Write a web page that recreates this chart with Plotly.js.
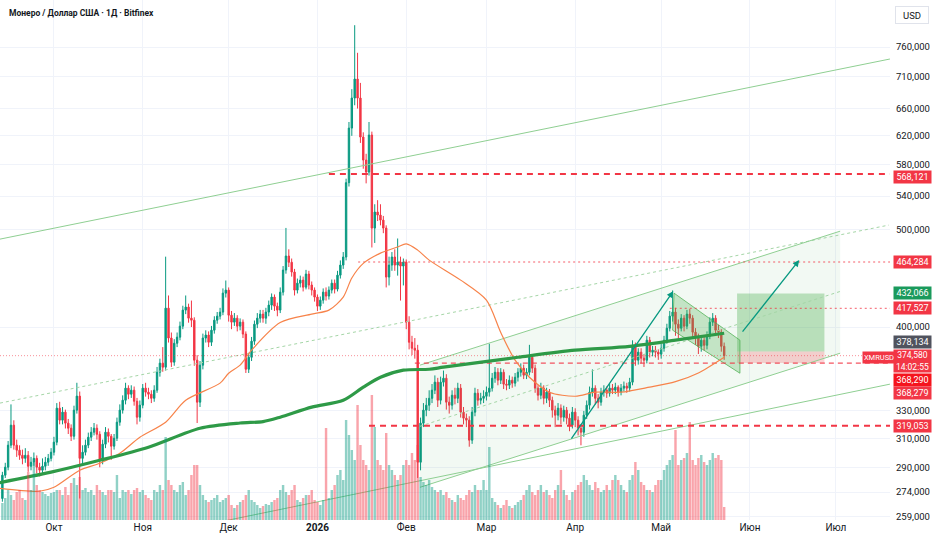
<!DOCTYPE html>
<html><head><meta charset="utf-8">
<script src="https://cdn.plot.ly/plotly-3.0.1.min.js"></script>
<style>html,body{margin:0;padding:0;background:#fff;}#chart{width:932px;height:550px;}</style>
</head><body><div id="chart"></div>
<script>
// ---------- DATA ----------
const startDate = [2025, 8, 13]; // first daily candle: 13 Sep 2025
const open0 = 270;
const closes = [
284.8,290.1,305.1,319.4,305.1,301.6,298.1,296.0,298.1,290.7,
293.4,296.0,290.1,288.1,290.7,293.4,296.0,300.2,307.2,332.1,
323.1,329.1,320.9,317.2,311.4,330.6,341.4,296.0,300.2,305.1,
310.7,314.3,317.2,312.8,294.7,305.8,314.3,311.4,304.4,310.0,
321.6,330.6,338.2,347.7,342.9,346.1,337.4,325.3,334.4,347.7,
344.5,342.9,339.7,346.1,360.6,368.2,364.8,417.7,390.0,369.0,
385.4,390.8,400.8,415.8,418.7,408.2,406.3,370.7,336.7,366.5,
390.0,392.7,386.3,397.1,406.3,410.1,413.9,432.3,435.3,411.0,
404.5,408.2,400.8,404.5,393.6,363.1,373.2,387.2,402.6,408.2,
412.0,408.2,413.9,420.6,428.4,419.6,415.8,433.3,455.8,470.7,
464.0,453.7,435.3,442.3,445.4,438.3,451.6,440.4,435.3,428.4,
419.6,425.4,433.3,429.4,435.3,442.3,436.3,450.5,461.0,469.6,
556.9,631.1,676.1,706.2,676.1,618.3,586.5,570.6,621.1,501.8,
520.6,517.0,511.1,501.8,448.5,461.0,469.6,461.0,464.2,460.0,
464.2,404.5,386.3,381.0,379.3,293.4,320.9,330.6,334.4,339.7,
346.1,352.5,338.2,352.5,355.7,336.7,334.4,342.1,339.7,347.7,
329.1,324.6,323.1,308.6,329.1,343.7,338.2,339.7,341.3,344.5,
347.7,355.7,360.6,354.1,360.6,350.9,350.1,354.1,351.7,356.5,
360.6,364.0,358.2,360.6,373.2,364.0,347.7,342.1,347.7,339.7,
344.5,338.2,330.6,326.8,332.1,325.3,330.6,324.6,319.4,329.1,
323.1,317.2,314.3,326.8,334.4,344.5,347.7,339.7,336.7,344.5,
346.1,343.7,347.7,346.1,348.5,344.5,347.7,349.3,347.7,352.5,
383.6,370.7,377.6,372.4,370.7,388.1,377.6,379.3,377.6,375.9,
381.0,388.1,398.9,410.1,413.9,402.6,398.9,408.2,400.8,412.0,
408.2,395.3,391.7,382.7,388.1,383.6,391.7,404.5,408.2,397.1,
395.3,382.7,374.58];
const highs = [
287,293,308,335,323,309,305,302,303,301,
297,300,298,293,296,297,299,303,311,336,
337,333,331,324,320,334,352,345,305,309,
314,318,321,320,315,309,318,317,313,313,
325,335,342,352,350,350,349,340,338,351,
352,348,346,350,365,372,382,470,430,395,
389,395,405,420,430,422,425,409,375,370,
394,397,396,401,410,414,418,437,445,438,
415,413,411,408,407,396,377,391,406,413,
416,416,418,425,432,431,423,438,460,502,
478,468,457,447,450,449,456,455,444,438,
431,429,437,438,439,446,446,455,466,475,
562,640,690,799,750,700,625,595,640,626,
530,535,530,516,505,470,475,478,490,470,
468,467,410,392,390,384,325,336,340,346,
351,358,356,357,362,359,341,346,348,352,
351,333,328,326,333,348,347,344,346,349,
385,360,365,364,364,363,355,358,357,360,
364,368,367,364,384,376,367,350,352,350,
348,347,341,334,336,335,334,333,328,333,
332,326,320,330,338,349,363,350,343,348,
350,349,351,351,352,350,351,353,352,356,
388,386,381,381,376,392,391,383,383,380,
385,392,403,415,435,418,407,412,411,416,
417,411,399,394,392,391,396,409,413,411,
402,398,386];
const lows = [
268,283,288,303,302,297,295,292,293,287,
288,291,286,284,285,288,291,294,298,305,
320,320,317,313,308,309,328,270,292,298,
303,308,312,309,290,292,303,307,295,302,
308,319,328,335,339,340,334,320,322,332,
341,339,336,337,344,357,361,362,386,365,
366,382,388,398,412,404,400,366,321,333,
363,386,382,383,394,403,407,411,428,405,
398,401,396,397,390,360,360,370,384,399,
404,404,403,410,416,415,410,413,430,452,
459,449,430,432,438,434,436,436,430,424,
415,416,422,425,426,432,432,434,447,457,
466,552,620,665,660,610,575,556,566,480,
485,510,505,496,438,440,455,455,450,425,
440,398,380,375,372,283,288,318,326,330,
336,343,333,335,349,331,328,331,335,336,
325,320,318,304,306,326,334,335,336,338,
341,345,352,350,351,347,346,347,348,349,
353,357,355,355,358,360,344,338,339,335,
336,333,325,318,323,320,322,320,315,317,
318,312,305,311,324,331,341,335,332,334,
341,340,341,343,343,341,342,345,344,345,
350,366,367,368,365,368,373,374,373,371,
372,378,385,396,405,392,390,396,396,398,
403,390,384,376,378,379,380,389,401,393,
390,378,371];
const volumes = [
17,22,30,25,20,28,30,22,20,48,
30,57,35,30,28,26,24,27,28,30,
30,25,33,25,37,42,35,43,30,32,
28,30,25,35,30,28,25,30,30,28,
45,22,30,28,30,26,30,32,28,30,
25,22,20,30,28,35,30,83,40,35,
30,28,35,38,25,30,45,55,55,35,
25,20,18,20,22,25,18,20,22,25,
15,12,15,18,20,25,30,20,18,15,
12,14,16,15,18,20,22,30,35,28,
25,30,35,20,18,22,25,25,30,20,
18,15,20,92,22,30,35,45,50,40,
100,85,70,60,115,75,60,55,50,125,
93,60,55,50,87,55,50,45,40,45,
55,60,55,67,60,75,43,38,35,40,
33,30,28,30,25,28,22,20,18,25,
22,20,25,30,28,35,30,30,40,30,
73,22,18,15,12,15,20,14,12,15,
18,20,25,30,35,28,25,30,35,28,
30,25,22,30,35,50,30,25,20,28,
30,35,38,45,40,35,30,38,32,28,
30,35,30,40,45,40,35,30,28,40,
45,58,50,38,35,30,30,28,35,40,
40,50,55,60,65,90,55,60,62,67,
98,60,55,62,65,58,55,60,67,62,
65,60,13];

const monthTicks = ['2025-10-01','2025-11-01','2025-12-01','2026-01-01','2026-02-01','2026-03-01','2026-04-01','2026-05-01','2026-06-01','2026-07-01'];
const monthLabels = ['Окт','Ноя','Дек','<b>2026</b>','Фев','Мар','Апр','Май','Июн','Июл'];
const priceTicks = [259,274,290,310,330,400,500,540,580,620,660,710,760];
const priceTickText = ['259,000','274,000','290,000','310,000','330,000','400,000','500,000','540,000','580,000','620,000','660,000','710,000','760,000'];

const smaDates = ['2025-09-12','2025-09-30','2025-10-17','2025-11-03','2025-11-21','2025-12-05','2025-12-13','2025-12-19','2025-12-30','2026-01-10','2026-01-17','2026-01-23','2026-01-31','2026-02-09','2026-02-14','2026-03-12','2026-04-01','2026-04-20','2026-05-06','2026-05-23'];
const smaValues = [280.0,286.8,294.7,303.7,317.2,321.0,322.0,325.3,332.9,338.2,348.5,356.5,362.3,363.1,364.8,373.2,379.3,382.7,388.1,394.3];

const emaDates = ['2025-09-12','2025-09-26','2025-10-01','2025-10-10','2025-10-17','2025-10-24','2025-10-31','2025-11-09','2025-11-16','2025-11-28','2025-12-01','2025-12-05','2025-12-09','2025-12-19','2025-12-30','2026-01-05','2026-01-10','2026-01-13','2026-01-17','2026-01-23','2026-01-29','2026-02-01','2026-02-05','2026-02-09','2026-02-20','2026-03-01','2026-03-06','2026-03-11','2026-03-16','2026-03-23','2026-04-01','2026-04-08','2026-04-17','2026-04-27','2026-05-06','2026-05-14','2026-05-23'];
const emaValues = [276.3,274.5,277.0,288.1,292.7,299.5,310.7,321.6,338.2,351.7,359.8,366.5,379.3,404.1,412.0,415.8,428.4,447.6,462.8,473.8,480.5,483.9,477.1,466.3,445.4,425.4,395.0,370.7,356.5,344.5,341.3,344.5,344.5,348.5,352.9,360.0,373.2];

// drawn trend lines: [startDate, startPrice, endDate, endPrice]
const trendTop = ['2025-09-12 04:00', 489.3, '2026-07-19 21:00', 739.4];
const trendDotted = ['2025-09-12 04:00', 336.0, '2026-07-19 12:00', 505.3];
const trendLong = ['2025-11-03 12:00', 247.6, '2026-07-19 21:00', 350.9];
const channelUpper = ['2026-02-05 19:00', 366.5, '2026-07-02 12:00', 498.3];
const channelMid = ['2026-02-05 19:00', 318.6, '2026-07-02 12:00', 434.0];
const channelLower = ['2026-02-05 19:00', 277.0, '2026-07-02 12:00', 376.7];
const flagUpper = ['2026-05-05 12:00', 432.3, '2026-05-28 12:00', 388.1];
const flagLower = ['2026-05-05 00:00', 397.1, '2026-05-28 12:00', 359.8];
const arrowUp1 = ['2026-03-30 07:00', 308.6, '2026-05-05 05:00', 434.3];
const arrowUp2 = ['2026-05-29 00:00', 394.4, '2026-06-18 05:00', 466.3];
const longPos = {from: '2026-05-27 12:00', to: '2026-06-27 00:00', target: 432.066, entry: 378.134, stop: 368.29};

// horizontal levels: [price, startDate, style]
const levels = [
  [568.121, '2026-01-05', 'thick'],
  [464.284, '2026-01-15 05:00', 'dot'],
  [417.527, '2026-05-04', 'dot'],
  [368.29, '2026-02-04', 'dash'],
  [319.053, '2026-01-19', 'thick'],
  [374.58, '2025-09-12 04:00', 'price']
];

// ---------- BUILD ----------
const xRange = ['2025-09-12 04:00', '2026-07-19 21:30'];
const yMin = 257.0, yMax = 846.5;
const UP = '#089981', DOWN = '#f23645';
const FONT = 'Roboto, "Noto Sans", sans-serif';

const dates = closes.map((_, i) => new Date(Date.UTC(startDate[0], startDate[1], startDate[2] + i)).toISOString().slice(0, 10));
const opens = closes.map((c, i) => i === 0 ? open0 : closes[i - 1]);
const volColors = closes.map((c, i) => c >= opens[i] ? 'rgba(8,153,129,0.45)' : 'rgba(242,54,69,0.45)');

const traces = [];
traces.push({type: 'bar', x: dates, y: volumes, yaxis: 'y2', marker: {color: volColors, line: {width: 0}}, hoverinfo: 'skip'});

function seg(a, color, width, dash) {
  return {type: 'scatter', mode: 'lines', x: [a[0], a[2]], y: [a[1], a[3]], line: {color, width, dash: dash || 'solid'}, hoverinfo: 'skip'};
}
function poly(u, l, fill, line) {
  return {type: 'scatter', mode: 'lines', x: [u[0], u[2], l[2], l[0], u[0]], y: [u[1], u[3], l[3], l[1], u[1]], fill: 'toself', fillcolor: fill, line: {width: line ? 1 : 0, color: line || 'rgba(0,0,0,0)'}, hoverinfo: 'skip'};
}
traces.push(poly(channelUpper, channelLower, 'rgba(76,175,80,0.07)'));
traces.push({type: 'scatter', mode: 'lines', x: [longPos.from, longPos.to, longPos.to, longPos.from, longPos.from], y: [longPos.target, longPos.target, longPos.entry, longPos.entry, longPos.target], fill: 'toself', fillcolor: 'rgba(76,175,80,0.35)', line: {width: 0}, hoverinfo: 'skip'});
traces.push({type: 'scatter', mode: 'lines', x: [longPos.from, longPos.to, longPos.to, longPos.from, longPos.from], y: [longPos.entry, longPos.entry, longPos.stop, longPos.stop, longPos.entry], fill: 'toself', fillcolor: 'rgba(242,54,69,0.22)', line: {width: 0}, hoverinfo: 'skip'});
traces.push(poly(flagUpper, flagLower, 'rgba(76,175,80,0.28)', 'rgba(76,175,80,0.75)'));
const TL = '#8fcf92';
traces.push(seg(trendTop, TL, 1));
traces.push(seg(trendDotted, '#a5d6a7', 1, '3px,3px'));
traces.push(seg(trendLong, TL, 1));
traces.push(seg(channelUpper, TL, 1));
traces.push(seg(channelLower, TL, 1));
traces.push(seg(channelMid, '#a5d6a7', 1, '3px,3px'));
levels.forEach(([p, d, s]) => {
  let line;
  if (s === 'thick') line = {color: DOWN, width: 2, dash: '6px,5px'};
  else if (s === 'dot') line = {color: 'rgba(242,54,69,0.8)', width: 1, dash: '2px,3px'};
  else if (s === 'dash') line = {color: 'rgba(242,54,69,0.85)', width: 1.3, dash: '5px,4px'};
  else line = {color: 'rgba(242,54,69,0.55)', width: 1, dash: '1px,2px'};
  traces.push({type: 'scatter', mode: 'lines', x: [d, xRange[1]], y: [p, p], line, hoverinfo: 'skip'});
});
traces.push({type: 'candlestick', x: dates, open: opens, high: highs, low: lows, close: closes,
  increasing: {line: {color: UP, width: 1}, fillcolor: UP},
  decreasing: {line: {color: DOWN, width: 1}, fillcolor: DOWN},
  whiskerwidth: 0, hoverinfo: 'skip'});
traces.push({type: 'scatter', mode: 'lines', x: emaDates, y: emaValues, line: {color: '#f7834a', width: 1.2, shape: 'spline', smoothing: 0.8}, hoverinfo: 'skip'});
traces.push({type: 'scatter', mode: 'lines', x: smaDates, y: smaValues, line: {color: '#2e9a47', width: 3.2, shape: 'spline', smoothing: 0.8}, hoverinfo: 'skip'});

// ---------- ANNOTATIONS ----------
const PW = 890, PH = 520;
function axisLabel(text, py, bg, h, fs) {
  return {xref: 'paper', yref: 'paper', x: 893 / PW, y: 1 - py / PH, xanchor: 'left', yanchor: 'middle',
    text, showarrow: false, bgcolor: bg, width: 35, height: h || 10, borderpad: 1, align: 'center',
    font: {color: '#ffffff', size: fs || 9, family: FONT}};
}
function pyOf(p) { return PH * (Math.log(yMax) - Math.log(p)) / (Math.log(yMax) - Math.log(yMin)); }
const annotations = [
  {xref: 'paper', yref: 'paper', x: 7 / PW, y: 1 - 13 / PH, xanchor: 'left', yanchor: 'middle', showarrow: false,
   text: '<b>Монеро / Доллар США · 1Д · Bitfinex</b>', font: {size: 8.5, color: '#131722', family: FONT}},
  {xref: 'paper', yref: 'paper', x: 895 / PW, y: 1 - 15 / PH, xanchor: 'left', yanchor: 'middle', showarrow: false,
   text: 'USD', width: 30, height: 14, bordercolor: '#e0e3eb', borderwidth: 1, borderpad: 1, bgcolor: '#ffffff',
   font: {size: 9.5, color: '#131722', family: FONT}},
  axisLabel('568,121', 176.5, '#f23645'),
  axisLabel('464,284', pyOf(464.284), '#f23645'),
  axisLabel('432,066', pyOf(432.066), '#1a9a5c'),
  axisLabel('417,527', pyOf(417.527), '#f23645'),
  axisLabel('378,134', 342, '#50535e'),
  axisLabel('374,580<br>14:02:55', 361, '#f23645', 20, 8.5),
  axisLabel('368,290', 379.5, '#f5141d'),
  axisLabel('368,279', 392.5, '#f23645'),
  axisLabel('319,053', pyOf(319.053), '#f23645'),
  {xref: 'paper', yref: 'paper', x: 862 / PW, y: 1 - 357 / PH, xanchor: 'left', yanchor: 'middle', showarrow: false,
   text: 'XMRUSD', bgcolor: '#f23645', width: 30, height: 9, borderpad: 1, font: {color: '#fff', size: 7.5, family: FONT}},
  {x: arrowUp1[2], y: Math.log10(arrowUp1[3]), ax: arrowUp1[0], ay: Math.log10(arrowUp1[1]), axref: 'x', ayref: 'y',
   showarrow: true, arrowhead: 2, arrowsize: 1, arrowwidth: 1.3, arrowcolor: UP, text: ''},
  {x: arrowUp2[2], y: Math.log10(arrowUp2[3]), ax: arrowUp2[0], ay: Math.log10(arrowUp2[1]), axref: 'x', ayref: 'y',
   showarrow: true, arrowhead: 2, arrowsize: 1, arrowwidth: 1.3, arrowcolor: UP, text: ''}
];

const layout = {
  width: 932, height: 550,
  margin: {l: 0, r: 42, t: 0, b: 30, pad: 0},
  paper_bgcolor: '#ffffff', plot_bgcolor: '#ffffff',
  showlegend: false, hovermode: false, bargap: 0.15,
  font: {family: FONT, color: '#131722', size: 10},
  xaxis: {type: 'date', range: xRange, tickvals: monthTicks, ticktext: monthLabels, showgrid: true, gridcolor: '#f0f3fa',
    zeroline: false, showline: false, ticks: '', tickfont: {size: 10, color: '#131722', family: FONT},
    rangeslider: {visible: false}, fixedrange: true},
  yaxis: {type: 'log', side: 'right', range: [Math.log10(yMin), Math.log10(yMax)], tickvals: priceTicks, ticktext: priceTickText,
    showgrid: true, gridcolor: '#f0f3fa', zeroline: false, showline: false, ticks: '', ticklabelstandoff: 5,
    tickfont: {size: 9.5, color: '#131722', family: FONT}, fixedrange: true},
  yaxis2: {overlaying: 'y', range: [0, 520], visible: false, fixedrange: true},
  annotations
};

Plotly.newPlot('chart', traces, layout, {staticPlot: true, displayModeBar: false});
</script>
</body></html>
